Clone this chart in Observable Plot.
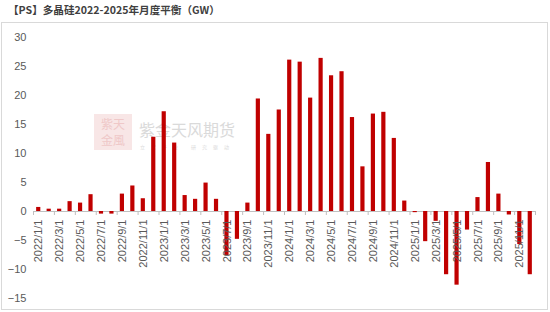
<!DOCTYPE html>
<html>
<head>
<meta charset="utf-8">
<script src="https://cdn.jsdelivr.net/npm/d3@7"></script>
<script src="https://cdn.jsdelivr.net/npm/@observablehq/plot@0.6"></script>
<style>
  html, body { margin: 0; padding: 0; background: #fff; }
  #wrap { position: relative; width: 550px; height: 312px; overflow: hidden; }
  #title { position: absolute; left: 8px; top: 3px; font: bold 10.6px "Noto Sans CJK SC", sans-serif; color: #404040; white-space: nowrap; line-height: 13px; }
  #box { position: absolute; left: 1px; top: 22px; width: 545px; height: 286px; border: 1px solid #d9d9d9; }
  #wm-logo { position: absolute; left: 94px; top: 114px; width: 38px; height: 36px; background: #f8e6e6; }
  .wm-l { position: absolute; left: 0; width: 38px; text-align: center; font: 12px "Noto Sans CJK SC", sans-serif; color: #efc8c8; line-height: 14px; }
  #wm-text { position: absolute; left: 139px; top: 119px; font: 16px "Noto Sans CJK SC", sans-serif; color: #dadada; white-space: nowrap; line-height: 20px; }
  #wm-sub { position: absolute; left: 140px; top: 144px; font: 5px "Noto Sans CJK SC", sans-serif; color: #dadada; white-space: nowrap; letter-spacing: 6px; line-height: 6px; }
  #chart { position: absolute; left: 0; top: 0; }
</style>
</head>
<body>
<div id="wrap">
  <div id="box"></div>
  <div id="wm-logo"><div class="wm-l" style="top:3px">紫天</div><div class="wm-l" style="top:19px">金風</div></div>
  <div id="wm-text">紫金天风期货</div>
  <div id="wm-sub">立足产业 研究驱动</div>
  <div id="title">【PS】多晶硅2022-2025年月度平衡（GW）</div>
  <div id="chart"></div>
</div>
<script>
const months = [
  "2022/1/1","2022/2/1","2022/3/1","2022/4/1","2022/5/1","2022/6/1","2022/7/1","2022/8/1","2022/9/1","2022/10/1","2022/11/1","2022/12/1",
  "2023/1/1","2023/2/1","2023/3/1","2023/4/1","2023/5/1","2023/6/1","2023/7/1","2023/8/1","2023/9/1","2023/10/1","2023/11/1","2023/12/1",
  "2024/1/1","2024/2/1","2024/3/1","2024/4/1","2024/5/1","2024/6/1","2024/7/1","2024/8/1","2024/9/1","2024/10/1","2024/11/1","2024/12/1",
  "2025/1/1","2025/2/1","2025/3/1","2025/4/1","2025/5/1","2025/6/1","2025/7/1","2025/8/1","2025/9/1","2025/10/1","2025/11/1","2025/12/1"
];
const bal2022 = [0.7, 0.4, 0.4, 1.7, 1.45, 2.9, -0.45, -0.45, 3.0, 4.4, 2.2, 12.8];
const bal2023 = [17.2, 11.8, 2.75, 2.1, 4.9, 2.1, -7.6, -4.8, 1.45, 19.4, 13.3, 17.5];
const bal2024 = [26.1, 25.75, 19.55, 26.4, 23.4, 24.1, 16.2, 7.7, 16.8, 17.1, 12.6, 1.8];
const bal2025 = [-0.2, -5.2, -1.7, -10.9, -12.7, -3.2, 2.4, 8.45, 3.0, -0.6, -5.7, -10.9];
const tickLabels = [
  "2022/1/1","2022/3/1","2022/5/1","2022/7/1","2022/9/1","2022/11/1",
  "2023/1/1","2023/3/1","2023/5/1","2023/7/1","2023/9/1","2023/11/1",
  "2024/1/1","2024/3/1","2024/5/1","2024/7/1","2024/9/1","2024/11/1",
  "2025/1/1","2025/3/1","2025/5/1","2025/7/1","2025/9/1","2025/11/1"
];
const yTicks = [-15, -10, -5, 0, 5, 10, 15, 20, 25, 30];

const values = [...bal2022, ...bal2023, ...bal2024, ...bal2025];
const data = months.map((m, i) => ({month: m, i, v: values[i]}));
const boundaries = tickLabels.map(l => months.indexOf(l) - 0.5).concat([months.length - 0.5]);

const chart = Plot.plot({
  width: 550,
  height: 312,
  marginTop: 37,
  marginBottom: 14,
  marginLeft: 33,
  marginRight: 15,
  style: {background: "transparent", fontFamily: "'Liberation Sans', Arial, sans-serif", fontSize: "11px", color: "#595959"},
  x: {type: "linear", domain: [-0.5, months.length - 0.5], axis: null},
  y: {domain: [-15, 30], axis: null, label: null},
  marks: [
    Plot.axisY(yTicks, {tickSize: 0, tickPadding: 7, fill: "#595959", fontSize: 11, label: null}),
    Plot.ruleY([0], {stroke: "#bfbfbf", strokeWidth: 1}),
    Plot.ruleX(boundaries, {x: d => d, y1: 0, y2: 0, insetBottom: -4, stroke: "#bfbfbf"}),
    Plot.rectY(data, {x1: d => d.i - 0.2, x2: d => d.i + 0.2, y1: 0, y2: "v", fill: "#c00000"}),
    Plot.text(tickLabels, {x: d => months.indexOf(d), y: 0, text: d => d, rotate: -90, textAnchor: "end", dy: 8, fill: "#595959", fontSize: 11})
  ]
});
document.getElementById("chart").appendChild(chart);
</script>
</body>
</html>
